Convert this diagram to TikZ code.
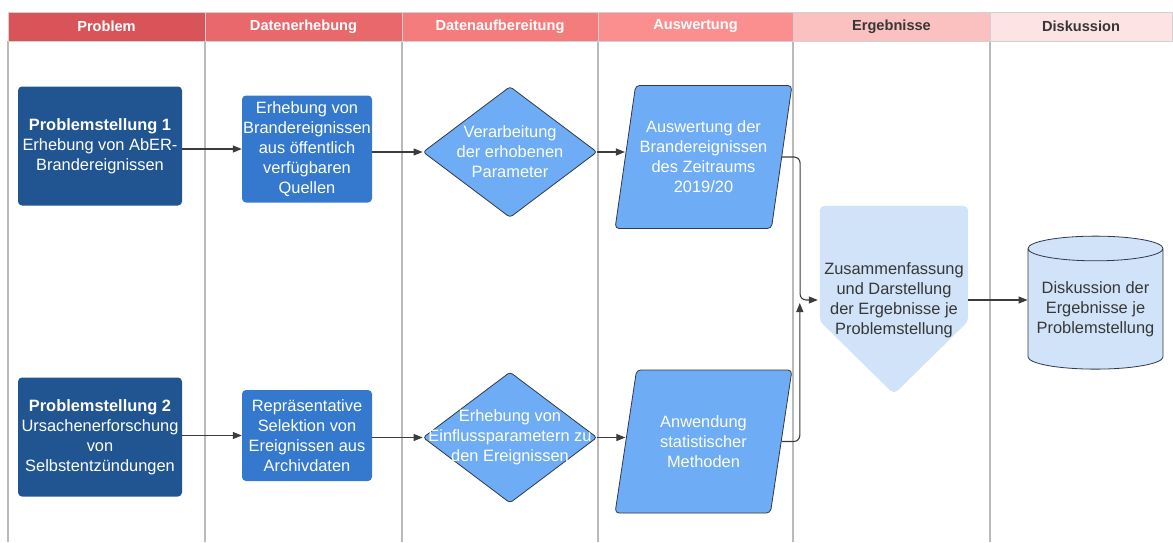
\documentclass[tikz,border=0pt]{standalone}
\usepackage{fontspec}
\setmainfont{Liberation Sans}
\usetikzlibrary{shapes.geometric,arrows.meta,backgrounds}

\definecolor{headA}{RGB}{217,84,89}
\definecolor{headB}{RGB}{232,104,108}
\definecolor{headC}{RGB}{245,124,125}
\definecolor{headD}{RGB}{251,143,143}
\definecolor{headE}{RGB}{251,192,192}
\definecolor{headF}{RGB}{253,227,227}
\definecolor{probblue}{RGB}{33,85,146}
\definecolor{boxblue}{RGB}{52,121,206}
\definecolor{midblue}{RGB}{110,172,245}
\definecolor{paleblue}{RGB}{208,227,248}
\definecolor{rimgray}{RGB}{48,56,74}
\definecolor{arrowgray}{RGB}{60,60,60}
\definecolor{textgray}{RGB}{55,55,55}

\begin{document}
\begin{tikzpicture}[
		x=1pt, y=-1pt,
		font=\fontsize{16.4}{20}\selectfont,
		head/.style={draw=black!18, line width=0.6pt, minimum height=29pt, inner sep=0pt,
				font=\fontsize{14.6}{17}\selectfont\bfseries, text=white},
		lane/.style={draw=black!27, line width=1.4pt},
		probbox/.style={fill=probblue, rounded corners=4pt, text=white, align=center,
				minimum width=164pt, minimum height=119pt, inner sep=0pt},
		collect/.style={fill=boxblue, rounded corners=4pt, text=white, align=center,
				minimum width=130pt, inner sep=0pt},
		decide/.style={diamond, draw=rimgray, line width=0.8pt, fill=midblue, rounded corners=3pt,
				minimum width=174pt, minimum height=131pt, inner sep=0pt},
		decidetext/.style={text=white, align=center},
		evalbox/.style={trapezium, trapezium left angle=75, trapezium right angle=105,
				trapezium stretches=true, draw=rimgray, line width=0.8pt, fill=midblue,
				rounded corners=4pt, minimum width=177pt, minimum height=143pt,
				text=white, align=center, inner sep=0pt},
		sumbox/.style={text=textgray, align=center, minimum width=148pt, minimum height=188pt, inner sep=0pt},
		store/.style={cylinder, shape border rotate=90, aspect=0.21, draw=rimgray, line width=0.8pt,
				fill=paleblue, text=textgray, align=center, minimum width=135pt, minimum height=133pt,
				inner sep=0pt},
		conn/.style={draw=arrowgray, line width=1.1pt, rounded corners=6pt,
				-{Triangle[length=9pt,width=7pt]}}
	]
	\useasboundingbox (0,0) rectangle (1173,542);

	% header row of the swimlanes
	\node[head, fill=headA, minimum width=197pt] (hprob) at (106.5,26.5) {Problem};
	\node[head, fill=headB, minimum width=197pt] (hdata) at (303.5,26.5) {Datenerhebung};
	\node[head, fill=headC, minimum width=196pt] (hprep) at (500,26.5) {Datenaufbereitung};
	\node[head, fill=headD, minimum width=195pt] (heval) at (695.5,26.5) {Auswertung};
	\node[head, fill=headE, minimum width=197pt, text=textgray] (hres) at (891.5,26.5) {Ergebnisse};
	\node[head, fill=headF, minimum width=182pt, text=textgray] (hdisc) at (1081,26.5) {Diskussion};

	% first problem
	\node[probbox] (ps1) at (100,146) {\textbf{Problemstellung 1}\\Erhebung von AbER-\\Brandereignissen};
	\node[collect, minimum height=107pt] (box1) at (307,149) {Erhebung von\\Brandereignissen\\aus öffentlich\\verfügbaren\\Quellen};
	\node[decide, label={[decidetext]center:Verarbeitung\\der erhobenen\\Parameter}] (dia1) at (510,152) {};
	\node[evalbox] (para1) at (703.5,157) {Auswertung der\\Brandereignissen\\des Zeitraums\\2019/20};

	% second problem
	\node[probbox] (ps2) at (100,437) {\textbf{Problemstellung 2}\\Ursachenerforschung\\von\\Selbstentzündungen};
	\node[collect, minimum height=91pt] (box2) at (307,435.5) {Repräsentative\\Selektion von\\Ereignissen aus\\Archivdaten};
	\node[decide, label={[decidetext]center:Erhebung von\\Einflussparametern zu\\den Ereignissen}] (dia2) at (510,437.5) {};
	\node[evalbox] (para2) at (703.5,441.5) {Anwendung\\statistischer\\Methoden};

	% results and discussion
	\node[sumbox] (erg) at (894,300) {Zusammenfassung\\und Darstellung\\der Ergebnisse je\\Problemstellung};
	\node[store] (cyl) at (1095.5,309) {Diskussion der\\Ergebnisse je\\Problemstellung};

	\begin{scope}[on background layer]
		\foreach \x in {8,205,402,598,793,990}
		\draw[lane] (\x,41) -- (\x,542);
		\fill[paleblue, rounded corners=5pt] (erg.north west) -- (erg.north east)
		-- ([yshift=73pt]erg.south east) -- (erg.south) -- ([yshift=73pt]erg.south west) -- cycle;
	\end{scope}

	% connectors
	\draw[conn] (ps1.east |- box1) -- (box1);
	\draw[conn] (box1.east |- dia1) -- (dia1);
	\draw[conn] (dia1.east) -- (dia1.east -| para1.west);
	\draw[conn] (ps2.east |- box2) -- (box2);
	\draw[conn] (box2.east |- dia2) -- (dia2);
	\draw[conn] (dia2.east) -- (dia2.east -| para2.west);
	\draw[conn] (para1.east) -- ++(18,0) |- ([xshift=-2pt]erg.west);
	\draw[conn] (para2.east) -| ([xshift=-20pt,yshift=-3pt]erg.west);
	\draw[conn] (erg.east) -- (erg.east -| cyl.west);
\end{tikzpicture}
\end{document}
